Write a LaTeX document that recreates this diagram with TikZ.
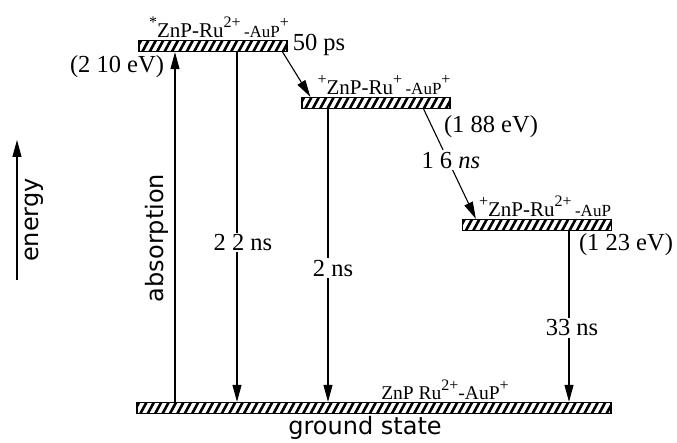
\documentclass[tikz,border=0pt]{standalone}
\usepackage{fontspec}
\setmainfont{Liberation Serif}
\setsansfont{DejaVu Sans}
\usetikzlibrary{positioning,arrows.meta}
\newcommand\up[1]{\raisebox{0.45em}{\fontsize{16}{16}\selectfont #1}}
\newcommand\sm[1]{{\fontsize{17}{17}\selectfont #1}}

\begin{document}
\begin{tikzpicture}[x=1pt, y=1pt,
  lvl/.style={draw, line width=1.3pt, inner sep=0pt, minimum height=11pt,
    path picture={\foreach \k in {0,...,70}{\draw[line width=2.6pt] ([xshift=\k*7.4pt-4pt]path picture bounding box.south west) -- ++(6pt,11pt);}}},
  arr/.style={-{Triangle[length=17pt,width=9pt]}, line width=1.1pt},
  state/.style={inner sep=1pt, font=\fontsize{21}{23}\selectfont},
  val/.style={inner sep=1.5pt, font=\fontsize{24.5}{27}\selectfont},
  onln/.style={val, fill=white},
  sans/.style={inner sep=1pt, font=\sffamily\fontsize{24}{26}\selectfont},
  axis/.style={sans, rotate=90}
]
\useasboundingbox (0,0) rectangle (677,443);
% levels
\node[lvl, minimum width=148pt] (top) at (213,397) {};
\node[lvl, minimum width=148pt] (mid) at (376,340) {};
\node[lvl, minimum width=149pt] (low) at (537,218) {};
\node[lvl, minimum width=474pt] (gnd) at (374,35) {};
% state labels
\node[state, above=1pt of top, xshift=6pt] (toplab) {\up{*}ZnP-Ru\up{2+}\,\sm{-AuP}\up{+}};
\node[state, above=1pt of mid, xshift=8pt] (midlab) {\up{+}ZnP-Ru\up{+}\,\sm{-AuP}\up{+}};
\node[state, above=1pt of low, xshift=8pt] (lowlab) {\up{+}ZnP-Ru\up{2+}\,\sm{-AuP}};
\node[state, font=\fontsize{19.5}{21}\selectfont, above=1pt of gnd, xshift=71pt] (gndlab) {ZnP Ru\up{2+}-AuP\up{+}};
\node[sans, below=1pt of gnd, xshift=-9pt] (gs) {ground state};
% energies
\node[val] (e210) at (117,376) {(2 10 eV)};
\node[val] (e188) at (491,316) {(1 88 eV)};
\node[val] (e123) at (626,198) {(1 23 eV)};
% axis
\coordinate (en0) at (17,163);
\coordinate (en1) at (17,303);
\draw[arr] (en0) -- (en1);
\node[axis] (energy) at (34,223) {energy};
\node[axis] (absorb) at (157,205) {absorption};
% transitions
\coordinate (xabs) at (175,0);
\coordinate (x22) at (237,0);
\coordinate (x2) at (328,0);
\coordinate (x33) at (569,0);
\draw[arr] (gnd.north -| xabs) -- (top.south -| xabs);
\draw[arr] (top.south -| x22) -- node[onln, pos=0.545, xshift=6pt] (t22) {2 2 ns} (gnd.north -| x22);
\draw[arr] (mid.south -| x2) -- node[onln, pos=0.543, xshift=5pt] (t2) {2 ns} (gnd.north -| x2);
\draw[arr] (low.south -| x33) -- node[onln, pos=0.567, xshift=3pt] (t33) {33 ns} (gnd.north -| x33);
\draw[arr] ([xshift=-5pt]top.south east) -- ([xshift=9pt]mid.north west);
\node[val] (t50) at (319,398) {50 ps};
\draw[arr] ([xshift=-27pt]mid.south east) -- node[onln, pos=0.464, xshift=3pt] (t16) {1 6 \textit{ns}} ([xshift=14pt]low.north west);
\end{tikzpicture}
\end{document}
